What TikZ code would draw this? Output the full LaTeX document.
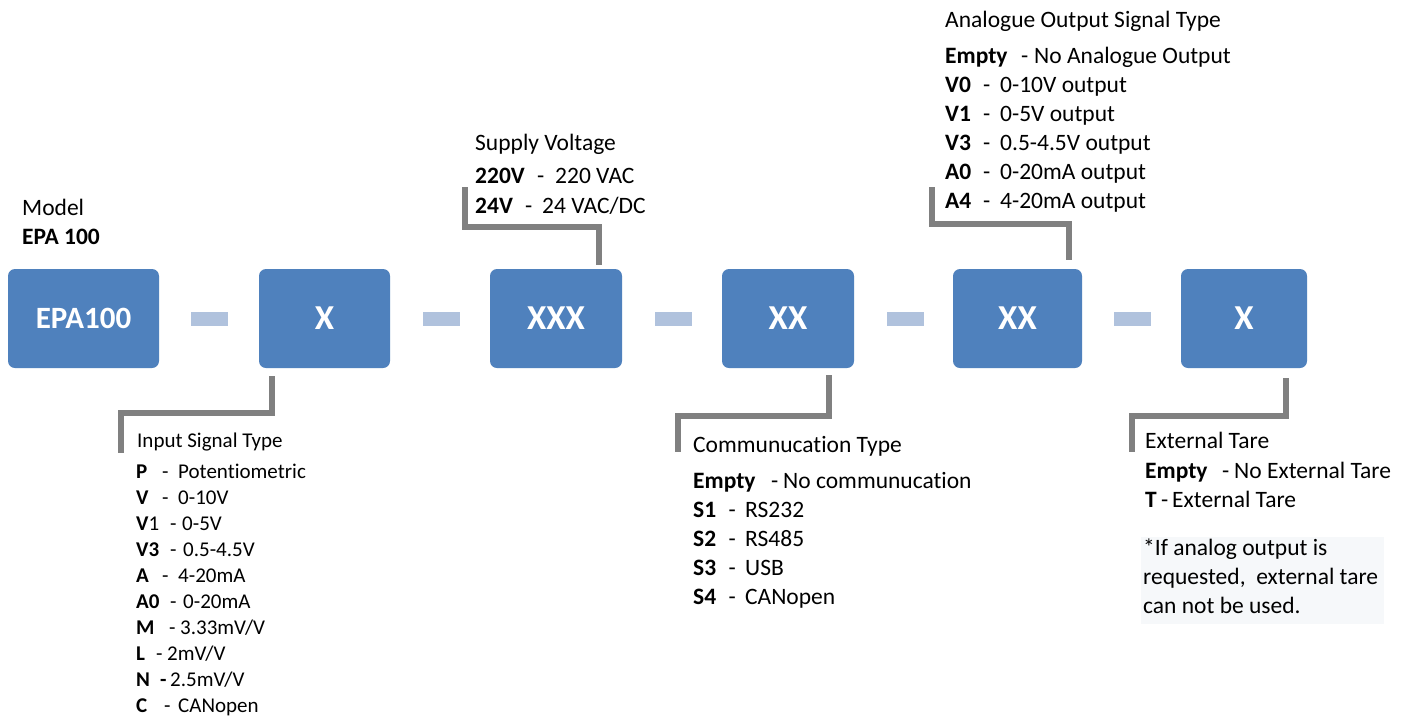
\documentclass[tikz,border=0pt]{standalone}
\usepackage{fontspec}
\setmainfont{Carlito}[Ligatures={NoCommon}]
\usetikzlibrary{calc}
\definecolor{boxblue}{HTML}{4F81BD}
\definecolor{dashblue}{HTML}{B0C2DD}
\definecolor{conngray}{HTML}{808080}
\definecolor{notebg}{HTML}{F6F8FA}
\newcommand{\itm}[4]{\makebox[#2pt][l]{#1}\makebox[#3pt][l]{-}#4}
\begin{document}
\begin{tikzpicture}[x=1pt,y=-1pt,
 codebox/.style={rectangle, rounded corners=7pt, fill=boxblue, text=white, font=\fontsize{35}{40}\selectfont\bfseries, minimum height=99pt, inner sep=0pt},
 sepbar/.style={rectangle, fill=dashblue, minimum width=37pt, minimum height=14pt, inner sep=0pt},
 conn/.style={draw=conngray, line width=6pt},
 lbl/.style={anchor=base west, inner sep=0pt, font=\fontsize{23.5}{29}\selectfont},
 slbl/.style={anchor=base west, inner sep=0pt, font=\fontsize{21}{26}\selectfont},
 notebox/.style={fill=notebg, draw=none}]
\useasboundingbox[fill=white] (0,0) rectangle (1412,718);

% code boxes
\node[codebox, minimum width=151pt, font=\fontsize{31}{36}\selectfont\bfseries] (b1) at (83.5,318.5) {EPA100};
\node[codebox, minimum width=131pt] (b2) at (324.5,318.5) {X};
\node[codebox, minimum width=132pt] (b3) at (556,318.5) {XXX};
\node[codebox, minimum width=132pt] (b4) at (788,318.5) {XX};
\node[codebox, minimum width=129pt] (b5) at (1017.5,318.5) {XX};
\node[codebox, minimum width=126pt] (b6) at (1244,318.5) {X};

% separators
\node[sepbar] (s1) at (209.5,319) {};
\node[sepbar] (s2) at (441.5,319) {};
\node[sepbar] (s3) at (673.5,319) {};
\node[sepbar] (s4) at (905.5,319) {};
\node[sepbar] (s5) at (1132.5,319) {};

% connector ends
\coordinate (e2) at (121,453);
\coordinate (e3) at (465,187);
\coordinate (e4) at (678,452);
\coordinate (e5) at (932,187);
\coordinate (e6) at (1132,452);

\draw[conn] ($(b2.south)+(-52.5,8)$) -- ++(0,37) -| (e2);
\draw[conn] ($(b3.north)+(43,-4)$) -- ++(0,-38) -| (e3);
\draw[conn] ($(b4.south)+(41,7)$) -- ++(0,41) -| (e4);
\draw[conn] ($(b5.north)+(51.5,-9)$) -- ++(0,-36) -| (e5);
\draw[conn] ($(b6.south)+(42,10)$) -- ++(0,38) -| (e6);

% Model
\node[lbl] (m1) at (22,215) {Model};
\node[lbl, font=\fontsize{23.5}{29}\selectfont\bfseries] (m2) at (22,244) {EPA 100};

% Supply voltage
\node[lbl] (v0) at (475,150) {Supply Voltage};
\node[lbl] (v1) at (475,183) {\itm{\textbf{220V}}{62}{18}{220 VAC}};
\node[lbl] (v2) at (475,213) {\itm{\textbf{24V}}{50}{17}{24 VAC/DC}};

% Analogue output
\node[lbl] (a0) at (945,27) {Analogue Output Signal Type};
\node[lbl] (a1) at (945,63) {\itm{\textbf{Empty}}{76}{13}{No Analogue Output}};
\node[lbl] (a2) at (945,92) {\itm{\textbf{V0}}{38}{17}{0-10V output}};
\node[lbl] (a3) at (945,121) {\itm{\textbf{V1}}{38}{17}{0-5V output}};
\node[lbl] (a4) at (945,150) {\itm{\textbf{V3}}{38}{17}{0.5-4.5V output}};
\node[lbl] (a5) at (945,179) {\itm{\textbf{A0}}{38}{17}{0-20mA output}};
\node[lbl] (a6) at (945,208) {\itm{\textbf{A4}}{38}{17}{4-20mA output}};

% Input signal type
\node[slbl] (i0) at (137,447) {Input Signal Type};
\node[slbl] (i1) at (136,478) {\itm{\textbf{P}}{26}{16}{Potentiometric}};
\node[slbl] (i2) at (136,504) {\itm{\textbf{V}}{26}{16}{0-10V}};
\node[slbl] (i3) at (136,530) {\itm{\textbf{V}1}{34}{12}{0-5V}};
\node[slbl] (i4) at (136,556) {\itm{\textbf{V3}}{34}{13}{0.5-4.5V}};
\node[slbl] (i5) at (136,582) {\itm{\textbf{A}}{26}{16}{4-20mA}};
\node[slbl] (i6) at (136,608) {\itm{\textbf{A0}}{34}{13}{0-20mA}};
\node[slbl] (i7) at (136,634) {\itm{\textbf{M}}{33}{11}{3.33mV/V}};
\node[slbl] (i8) at (136,660) {\itm{\textbf{L}}{20}{11}{2mV/V}};
\node[slbl] (i9) at (136,686) {\makebox[24pt][l]{\textbf{N}}\makebox[10pt][l]{\textbf{-}}2.5mV/V};
\node[slbl] (i10) at (136,712) {\itm{\textbf{C}}{28}{14}{CANopen}};

% Communication type
\node[lbl] (c0) at (693,452) {Communucation Type};
\node[lbl] (c1) at (693,488) {\itm{\textbf{Empty}}{78}{12}{No communucation}};
\node[lbl] (c2) at (693,517) {\itm{\textbf{S1}}{35.5}{16.5}{RS232}};
\node[lbl] (c3) at (693,546) {\itm{\textbf{S2}}{35.5}{16.5}{RS485}};
\node[lbl] (c4) at (693,575) {\itm{\textbf{S3}}{35.5}{16.5}{USB}};
\node[lbl] (c5) at (693,604) {\itm{\textbf{S4}}{35.5}{16.5}{CANopen}};

% External tare
\node[lbl] (t0) at (1145,448) {External Tare};
\node[lbl] (t1) at (1145,478) {\itm{\textbf{Empty}}{77}{12}{No External Tare}};
\node[lbl] (t2) at (1145,507) {\itm{\textbf{T}}{16}{11}{External Tare}};

% note
\fill[notebox] (1141,537) rectangle (1384,624);
\node[lbl] (n1) at (1143,555) {*If analog output is};
\node[lbl] (n2) at (1143,584) {requested,\ \ external tare};
\node[lbl] (n3) at (1143,613) {can not be used.};
\end{tikzpicture}
\end{document}
